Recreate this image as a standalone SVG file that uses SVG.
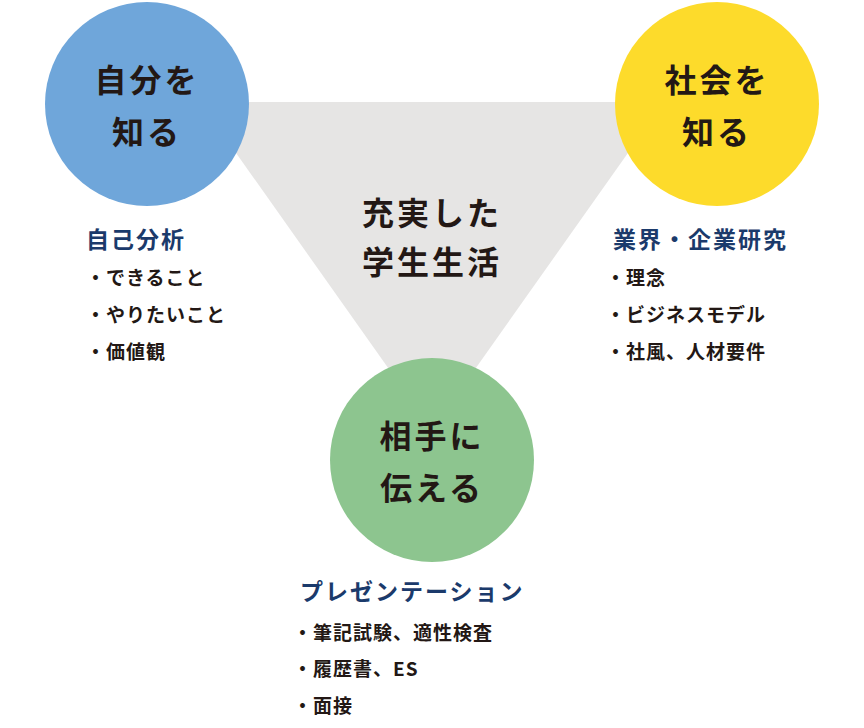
<svg xmlns="http://www.w3.org/2000/svg" width="864" height="728" viewBox="0 0 864 728">
<style>
.c{font-family:"Noto Sans CJK JP","Noto Sans",sans-serif;font-weight:bold;fill:#231815}
.big{font-size:32px;text-anchor:middle;letter-spacing:3px}
.h{font-size:23px;fill:#1b3a6b;letter-spacing:2px}
.l{font-size:19px;letter-spacing:1px}
</style>
<rect width="864" height="728" fill="#fff"/>
<g id="connectors"><polygon points="200,102 664,102 432,430" fill="#e6e5e4"/></g>
<g id="center"><text class="c big" x="432" y="225">充実した</text><text class="c big" x="432" y="274">学生生活</text></g>
<g id="self"><circle cx="147" cy="104" r="102" fill="#6fa6da"/>
<text class="c big" x="147" y="92">自分を</text><text class="c big" x="147" y="144">知る</text>
<text class="c h" x="86" y="248">自己分析</text>
<text class="c l" x="86" y="285">・できること</text><text class="c l" x="86" y="322">・やりたいこと</text><text class="c l" x="86" y="359">・価値観</text></g>
<g id="society"><circle cx="717" cy="104" r="102" fill="#fddb2b"/>
<text class="c big" x="717" y="92">社会を</text><text class="c big" x="717" y="144">知る</text>
<text class="c h" x="613" y="248">業界・企業研究</text>
<text class="c l" x="606" y="285">・理念</text><text class="c l" x="606" y="322">・ビジネスモデル</text><text class="c l" x="606" y="359">・社風、人材要件</text></g>
<g id="convey"><circle cx="432" cy="460" r="102" fill="#8dc58f"/>
<text class="c big" x="432" y="448">相手に</text><text class="c big" x="432" y="500">伝える</text>
<text class="c h" x="300" y="600">プレゼンテーション</text>
<text class="c l" x="293" y="640">・筆記試験、適性検査</text><text class="c l" x="293" y="676">・履歴書、ES</text><text class="c l" x="293" y="713">・面接</text></g>
</svg>
